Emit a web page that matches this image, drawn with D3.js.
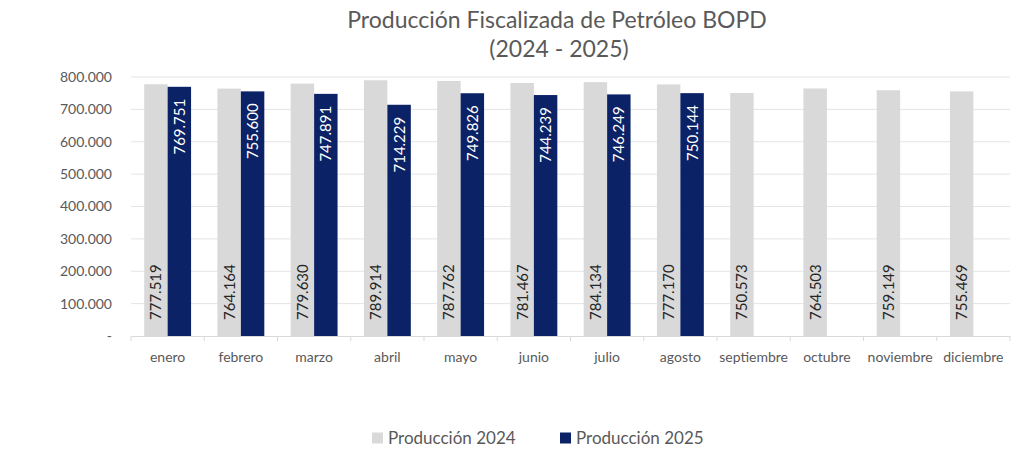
<!DOCTYPE html>
<html>
<head>
    <meta charset="UTF-8">
    <script src="https://d3js.org/d3.v7.min.js"></script>
    <title>Producción Fiscalizada de Petróleo BOPD</title>
    <style>
        body{margin:0;background:#fff;}
        text{font-family:Lato,"Open Sans",sans-serif;}
    </style>
</head>
<body>
    <div id="container"></div>
    <script>
        var months=["enero","febrero","marzo","abril","mayo","junio","julio","agosto","septiembre","octubre","noviembre","diciembre"];
        var series=["Producción 2024","Producción 2025"];
        var prod2024=[777519,764164,779630,789914,787762,781467,784134,777170,750573,764503,759149,755469];
        var prod2025=[769751,755600,747891,714229,749826,744239,746249,750144];
        var yTicks=[0,100000,200000,300000,400000,500000,600000,700000,800000];
        var colors=["#d9d9d9","#0b2266"];

        var width=1024,height=449,
            mLeft=131,mRight=1010,mTop=77,mBottom=336;

        var svg=d3.select("#container").append("svg")
            .attr("width",width)
            .attr("height",height);

        // título
        svg.append("text").attr("x",557).attr("y",28)
            .attr("text-anchor","middle").attr("fill","#595959").attr("font-size",23)
            .text("Producción Fiscalizada de Petróleo BOPD");
        svg.append("text").attr("x",559).attr("y",57)
            .attr("text-anchor","middle").attr("fill","#595959").attr("font-size",23)
            .text("(2024 - 2025)");

        var x=d3.scaleBand().domain(months).range([mLeft,mRight]).paddingInner(0.36).paddingOuter(0.18);
        var xs=d3.scaleBand().domain([0,1]).range([0,x.bandwidth()]);
        var y=d3.scaleLinear().domain([0,800000]).range([mBottom,mTop]);

        var fmt=function(d){return d==0?"-":d3.format(",")(d).replace(/,/g,".");};

        // rejilla
        svg.append("g").selectAll("line").data(yTicks.slice(1)).enter().append("line")
            .attr("x1",mLeft).attr("x2",mRight)
            .attr("y1",function(d){return y(d)}).attr("y2",function(d){return y(d)})
            .attr("stroke","#e4e4e4").attr("stroke-width",1);

        // eje y
        var ya=svg.append("g").attr("transform","translate("+mLeft+",0)")
            .call(d3.axisLeft(y).tickValues(yTicks).tickFormat(fmt).tickSize(0).tickPadding(19));
        ya.select(".domain").remove();
        ya.selectAll("text").attr("fill","#595959").attr("font-size",14).style("font-family","Lato");

        // eje x
        var step=x.step();
        var xa=svg.append("g").attr("transform","translate(0,"+mBottom+")")
            .call(d3.axisBottom(x).tickSize(0).tickPadding(16));
        xa.select(".domain").attr("stroke","#d9d9d9");
        xa.selectAll("text").attr("fill","#595959").attr("font-size",14).style("font-family","Lato");
        xa.selectAll(".sep").data(d3.range(months.length+1)).enter().append("line")
            .attr("x1",function(i){return mLeft+i*step}).attr("x2",function(i){return mLeft+i*step})
            .attr("y1",0).attr("y2",5).attr("stroke","#d9d9d9");

        // barras
        var data=[prod2024,prod2025];
        data.forEach(function(vals,s){
            var g=svg.append("g");
            g.selectAll("rect").data(vals).enter().append("rect")
                .attr("x",function(d,i){return x(months[i])+xs(s)})
                .attr("y",function(d){return y(d)})
                .attr("width",xs.bandwidth())
                .attr("height",function(d){return mBottom-y(d)})
                .attr("fill",colors[s]);
            g.selectAll("text").data(vals).enter().append("text")
                .attr("transform",function(d,i){
                    var cx=x(months[i])+xs(s)+xs.bandwidth()/2;
                    var cy=s==0?mBottom-16:y(d)+12;
                    return "translate("+cx+","+cy+") rotate(-90)";
                })
                .attr("dy","0.36em")
                .attr("text-anchor",s==0?"start":"end")
                .attr("fill",s==0?"#262626":"#ffffff")
                .attr("font-size",15)
                .text(function(d){return fmt(d)});
        });

        // leyenda
        var legX=[372,560];
        var leg=svg.append("g").selectAll("g").data(series).enter().append("g")
            .attr("transform",function(d,i){return "translate("+legX[i]+",438)"});
        leg.append("rect").attr("x",0).attr("y",-5.5).attr("width",11).attr("height",11)
            .attr("fill",function(d,i){return colors[i]});
        leg.append("text").attr("x",16).attr("dy","0.36em").attr("fill","#595959").attr("font-size",17)
            .text(function(d){return d});
    </script>
</body>
</html>
